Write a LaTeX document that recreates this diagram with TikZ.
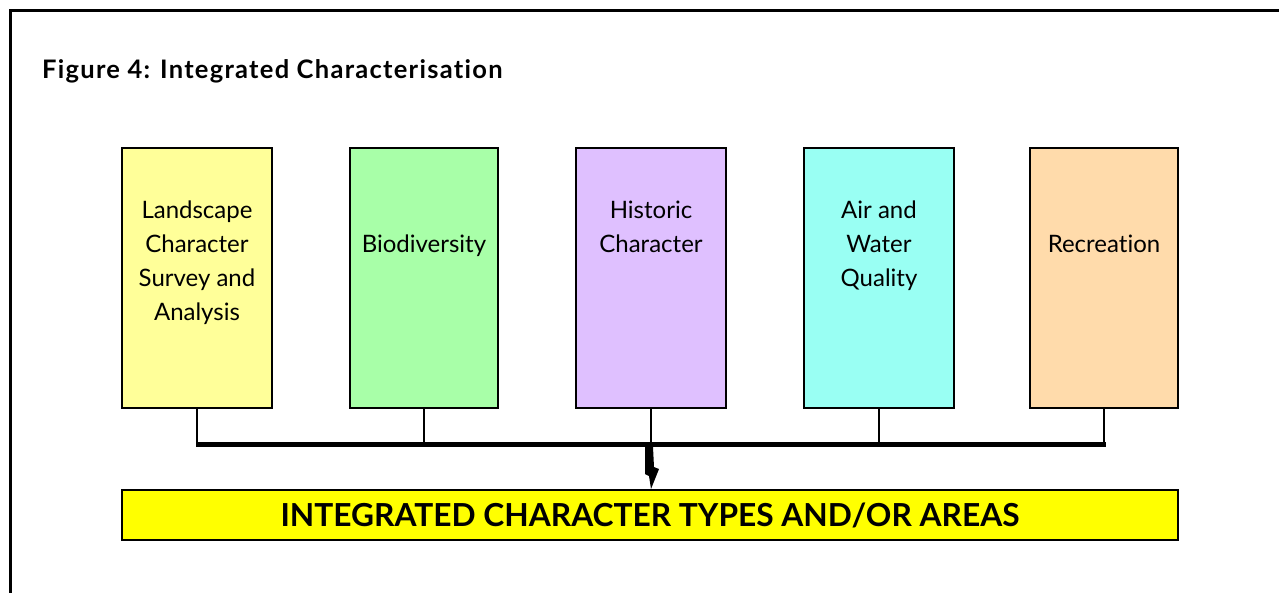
\documentclass[tikz,border=0pt]{standalone}
\usepackage{fontspec}
\setmainfont{Lato}[Ligatures=NoCommon]
\definecolor{cyel}{HTML}{FFFF99}
\definecolor{cgrn}{HTML}{A8FFA8}
\definecolor{cpur}{HTML}{DFC0FF}
\definecolor{ccya}{HTML}{99FFF3}
\definecolor{corg}{HTML}{FFDBAB}
\definecolor{cbar}{HTML}{FFFF00}
\begin{document}
\begin{tikzpicture}[x=1pt,y=-1pt,
  cbox/.style={draw=black,line width=2pt,minimum width=150pt,minimum height=260pt,inner sep=0pt},
  ctext/.style={align=center,font=\fontsize{24}{34}\selectfont,anchor=base,inner sep=0pt},
  link/.style={line width=1.5pt},
  bus/.style={line width=5pt},
  frame/.style={line width=3pt}]
\useasboundingbox (0,0) rectangle (1279,592);
\draw[frame] (10,593) -- (10,10) -- (1280,10);
\node[anchor=base west,inner sep=0pt,font=\fontsize{25.5}{30}\selectfont\bfseries\addfontfeature{LetterSpace=5}] (title) at (42,78) {Figure 4: Integrated Characterisation};
% boxes
\node[cbox,fill=cyel] (b1) at (197,278) {};
\node[cbox,fill=cgrn,minimum width=148pt] (b2) at (424,278) {};
\node[cbox,fill=cpur] (b3) at (651,278) {};
\node[cbox,fill=ccya] (b4) at (879,278) {};
\node[cbox,fill=corg,minimum width=148pt] (b5) at (1104,278) {};
% texts (anchor = baseline of last line)
\node[ctext] (t1) at (197,320) {Landscape\\Character\\Survey and\\Analysis};
\node[ctext] (t2) at (424,252) {Biodiversity};
\node[ctext] (t3) at (651,252) {Historic\\Character};
\node[ctext] (t4) at (879,286) {Air and\\Water\\Quality};
\node[ctext] (t5) at (1104,252) {Recreation};
% bottom bar
\node[draw=black,line width=2pt,fill=cbar,minimum width=1056pt,minimum height=50pt,inner sep=0pt,
  font=\fontsize{31.7}{34}\selectfont\bfseries] (bar) at (650,515) {INTEGRATED CHARACTER TYPES AND/OR AREAS};
% connectors
\coordinate (busL) at (197,444);
\coordinate (busR) at (1105,444);
\foreach \b in {b1,b2,b3,b4,b5}{
  \draw[link] (\b.south) -- (\b.south |- busL);
}
\draw[bus] ([xshift=-0.75pt]busL) -- ([xshift=0.75pt]busR);
\coordinate (bolt) at (b3.south |- busL);
\fill (bolt) ++(-6,3) -- ++(8,0) -- ++(1,20) -- ++(5,2) -- (bar.north -| bolt) -- ++(-2,-13) -- ++(-4,-2) -- cycle;
\end{tikzpicture}
\end{document}
